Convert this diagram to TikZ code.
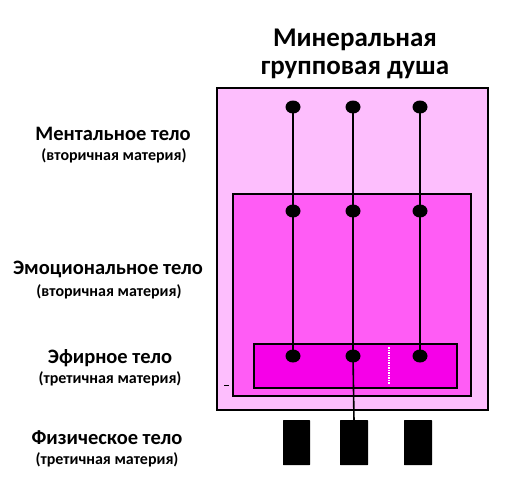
\documentclass[tikz,border=0pt]{standalone}
\usepackage{fontspec}
\usetikzlibrary{shapes.geometric}
\setmainfont{Carlito}
\definecolor{outerpink}{RGB}{253,190,253}
\definecolor{midpink}{RGB}{255,92,245}
\definecolor{innerpink}{RGB}{246,0,232}
\begin{document}
\begin{tikzpicture}[x=1pt,y=-1pt,
  box/.style={draw=black,line width=1.6pt},
  dot/.style={ellipse,fill=black,inner sep=0pt,minimum width=15pt,minimum height=13pt},
  wire/.style={line width=1.6pt},
  blk/.style={fill=black,rounded corners=0.5pt},
  lab/.style={font=\bfseries\fontsize{20.5}{24}\selectfont,anchor=center},
  sub/.style={font=\bfseries\fontsize{16}{18}\selectfont,anchor=center},
  ttl/.style={font=\bfseries\fontsize{27}{31}\selectfont,anchor=center}]
\useasboundingbox (0,0) rectangle (529,498);
\fill[white] (0,0) rectangle (529,498);
% boxes
\filldraw[box,fill=outerpink] (217,88) rectangle (488,410);
\filldraw[box,fill=midpink] (233,194) rectangle (471,396);
\filldraw[box,fill=innerpink] (254,344) rectangle (457,388);
% white dotted mark
\draw[white,line width=1.2pt,dash pattern=on 1.5pt off 1pt] (389,347) -- (389,384);
% tiny dash
\draw[black,line width=0.8pt] (224,385) -- (229,385);
% dots
\foreach \c/\x in {a/293,b/353,c/420}{
  \node[dot] (\c1) at (\x,107) {};
  \node[dot] (\c2) at (\x,211) {};
  \node[dot] (\c3) at (\x,356) {};
}
% physical blocks
\fill[blk] (283,420) rectangle (310,465);
\fill[blk] (340,420) rectangle (368,465);
\fill[blk] (404,420) rectangle (432,465);
\coordinate (pb) at (354,421);
% wires
\foreach \c in {a,b,c}{
  \draw[wire] (\c1.center) -- (\c3.center);
}
\draw[wire] (b3.center) -- (pb);
% title
\node[ttl] (t1) at (355,40) {Минеральная};
\node[ttl] (t2) at (355,70) {групповая душа};
% labels
\node[lab] (m1) at (113,134) {Ментальное тело};
\node[sub] (m2) at (114,156) {(вторичная материя)};
\node[lab] (e1) at (108,269) {Эмоциональное тело};
\node[sub] (e2) at (109,292) {(вторичная материя)};
\node[lab] (f1) at (110,358) {Эфирное тело};
\node[sub] (f2) at (110,379) {(третичная материя)};
\node[lab] (p1) at (107,438) {Физическое тело};
\node[sub] (p2) at (107,460) {(третичная материя)};
\end{tikzpicture}
\end{document}
